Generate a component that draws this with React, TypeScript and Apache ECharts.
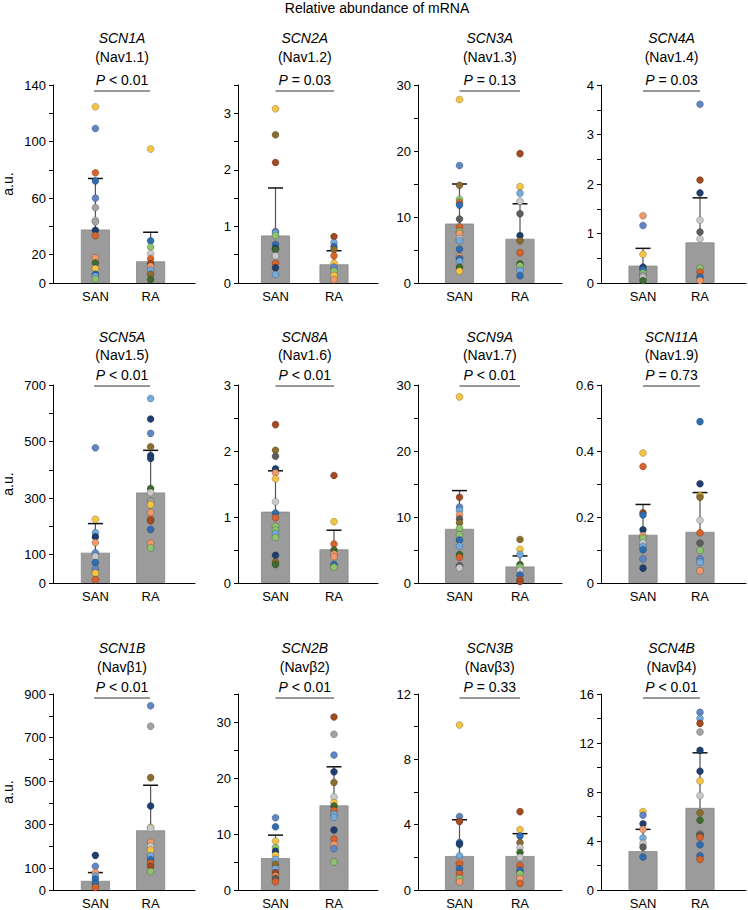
import React, { useEffect, useRef } from 'react';
import * as echarts from 'echarts';

const FONT = "'Liberation Sans', Arial, Helvetica, sans-serif";

const mainTitle = 'Relative abundance of mRNA';
const categories = ['SAN', 'RA'];
const genes = ['SCN1A', 'SCN2A', 'SCN3A', 'SCN4A', 'SCN5A', 'SCN8A', 'SCN9A', 'SCN11A', 'SCN1B', 'SCN2B', 'SCN3B', 'SCN4B'];
const proteins = ['Nav1.1', 'Nav1.2', 'Nav1.3', 'Nav1.4', 'Nav1.5', 'Nav1.6', 'Nav1.7', 'Nav1.9', 'Navβ1', 'Navβ2', 'Navβ3', 'Navβ4'];
const pTexts = ['< 0.01', '= 0.03', '= 0.13', '= 0.03', '< 0.01', '< 0.01', '< 0.01', '= 0.73', '< 0.01', '< 0.01', '= 0.33', '< 0.01'];

// y axis scale per panel
const yMax = [140, 3.5, 30, 4, 700, 3, 30, 0.6, 900, 35, 12, 16];
const yStep = [20, 0.5, 5, 0.5, 100, 0.5, 5, 0.1, 100, 5, 2, 2];
const yLabels = [
  [0, 20, 60, 100, 140],
  [0, 1, 2, 3],
  [0, 10, 20, 30],
  [0, 1, 2, 3, 4],
  [0, 100, 300, 500, 700],
  [0, 1, 2, 3],
  [0, 10, 20, 30],
  [0, 0.2, 0.4, 0.6],
  [0, 100, 300, 500, 700, 900],
  [0, 10, 20, 30],
  [0, 4, 8, 12],
  [0, 4, 8, 12, 16],
];

// bar heights (mean) and top of error bar (mean + SD)
const sanMean = [37.8, 0.84, 9.0, 0.35, 107, 1.08, 8.2, 0.146, 42, 5.7, 2.08, 3.17];
const sanUpper = [73.9, 1.68, 15.0, 0.70, 210, 1.70, 14.0, 0.238, 80, 9.8, 4.3, 4.95];
const raMean = [15.3, 0.33, 6.7, 0.82, 320, 0.51, 2.5, 0.155, 274, 15.1, 2.08, 6.7];
const raUpper = [35.9, 0.57, 12.0, 1.72, 469, 0.80, 4.1, 0.274, 481, 22.0, 3.45, 11.2];

// individual samples
const sanDots = [
  [124.6, 109.3, 77.9, 72.2, 60, 53.4, 44.4, 43.2, 37.3, 33.5, 17.7, 14.2, 10.2, 6.1, 4.7, 2.8],
  [3.08, 2.62, 2.13, 0.91, 0.88, 0.84, 0.68, 0.61, 0.59, 0.48, 0.35, 0.27, 0.15],
  [27.8, 17.8, 14.8, 12.7, 12.2, 11.8, 9.7, 8.5, 7.8, 7.5, 6.7, 6.4, 5.1, 4.0, 3.7, 3.3, 2.4, 1.8],
  [1.36, 1.16, 0.58, 0.32, 0.27, 0.2, 0.15, 0.11, 0.05],
  [478, 225, 178, 163, 143, 107, 94, 72, 50, 35, 12],
  [2.40, 2.01, 1.92, 1.73, 1.67, 1.58, 1.23, 1.06, 0.99, 0.86, 0.80, 0.75, 0.69, 0.42, 0.32, 0.28],
  [28.2, 13.0, 11.5, 11.0, 10.3, 9.7, 9.1, 8.3, 7.3, 6.5, 5.6, 4.3, 3.9, 2.6, 2.3],
  [0.394, 0.353, 0.213, 0.206, 0.161, 0.144, 0.136, 0.121, 0.111, 0.101, 0.073, 0.045],
  [159, 109, 80, 64, 50, 30, 12],
  [12.9, 11.3, 8.7, 7.6, 6.9, 6.2, 5.5, 4.6, 3.8, 3.1, 2.5, 2.1, 1.5],
  [10.1, 4.5, 4.2, 2.9, 2.8, 2.1, 1.7, 1.6, 1.3, 1.0, 0.7, 0.5],
  [6.4, 6.1, 5.4, 4.95, 4.25, 3.8, 3.5, 2.7],
];
const sanDotColors = [
  ['Y', 'BG', 'O', 'MB', 'BG', 'G', 'GL', 'G', 'N', 'O', 'S', 'DGR', 'Y', 'MB', 'LB', 'GR'],
  ['Y', 'OL', 'R', 'BG', 'LB', 'GR', 'MB', 'N', 'DGR', 'GL', 'O', 'N', 'LB'],
  ['Y', 'BG', 'OL', 'GR', 'O', 'MB', 'DG', 'O', 'GR', 'S', 'GL', 'LB', 'MB', 'S', 'MB', 'LB', 'DGR', 'Y'],
  ['S', 'BG', 'Y', 'N', 'MB', 'GR', 'G', 'GL', 'DGR'],
  ['BG', 'Y', 'LB', 'N', 'S', 'BG', 'GL', 'MB', 'BG', 'Y', 'O'],
  ['R', 'OL', 'DG', 'N', 'S', 'Y', 'GL', 'MB', 'O', 'GR', 'GR', 'LB', 'GR', 'N', 'OL', 'DGR'],
  ['Y', 'R', 'BG', 'LB', 'S', 'DG', 'OL', 'GR', 'GR', 'MB', 'LB', 'DGR', 'O', 'DG', 'GL'],
  ['Y', 'O', 'R', 'MB', 'N', 'S', 'GR', 'GL', 'LB', 'MB', 'BG', 'N'],
  ['N', 'BG', 'S', 'LB', 'MB', 'MB', 'O'],
  ['BG', 'MB', 'Y', 'GR', 'N', 'Y', 'LB', 'OL', 'LB', 'R', 'S', 'DG', 'O'],
  ['Y', 'BG', 'R', 'MB', 'N', 'LB', 'S', 'O', 'MB', 'O', 'GR', 'S'],
  ['Y', 'BG', 'N', 'S', 'LB', 'GL', 'DG', 'MB'],
];
const raDots = [
  [94.7, 29.8, 25.5, 20.8, 17.2, 13.7, 11.8, 9, 6.1, 2.4],
  [0.82, 0.71, 0.64, 0.59, 0.48, 0.35, 0.28, 0.21, 0.13, 0.06],
  [19.6, 14.6, 13.6, 12.4, 10.5, 7.2, 6.4, 4.6, 2.9, 2.6, 1.9, 1.1],
  [3.61, 2.08, 1.82, 1.27, 1.03, 0.89, 0.3, 0.22, 0.12, 0.05],
  [652, 580, 529, 482, 451, 440, 334, 320, 289, 277, 249, 225, 220, 189, 140, 124],
  [1.63, 0.93, 0.59, 0.50, 0.44, 0.40, 0.28, 0.24],
  [6.6, 5.1, 4.3, 2.8, 2.4, 1.9, 1.2, 0.5, 0.25],
  [0.489, 0.301, 0.265, 0.26, 0.19, 0.152, 0.121, 0.099, 0.073, 0.063, 0.037],
  [846, 752, 516, 386, 287, 284, 219, 201, 183, 157, 139, 124, 109, 85],
  [30.9, 27.8, 24.1, 21.1, 19.2, 16.6, 15.6, 15.0, 14.2, 13.5, 13.0, 10.7, 9.1, 8.1, 7.4, 5.0],
  [4.8, 3.7, 3.3, 2.9, 2.6, 2.3, 2.0, 1.5, 1.2, 1.0, 0.7, 0.4],
  [14.5, 14.0, 13.6, 12.9, 11.4, 9.7, 8.9, 7.7, 6.3, 5.7, 4.6, 4.5, 4.3, 3.7, 2.8, 2.5],
];
const raDotColors = [
  ['Y', 'MB', 'GR', 'GL', 'O', 'R', 'S', 'LB', 'OL', 'DGR'],
  ['R', 'LB', 'MB', 'OL', 'O', 'Y', 'BG', 'GR', 'Y', 'S'],
  ['R', 'Y', 'LB', 'GL', 'DG', 'N', 'OL', 'O', 'DGR', 'GR', 'LB', 'MB'],
  ['BG', 'R', 'N', 'GL', 'DG', 'GL', 'GR', 'O', 'MB', 'S'],
  ['LB', 'N', 'BG', 'OL', 'N', 'N', 'DGR', 'GL', 'G', 'Y', 'S', 'O', 'R', 'MB', 'S', 'GR'],
  ['R', 'Y', 'O', 'DGR', 'S', 'S', 'MB', 'GR'],
  ['OL', 'Y', 'LB', 'DGR', 'GR', 'GL', 'MB', 'O', 'R'],
  ['MB', 'N', 'Y', 'OL', 'GL', 'O', 'DG', 'GR', 'BG', 'LB', 'S'],
  ['BG', 'G', 'OL', 'N', 'Y', 'GL', 'S', 'GL', 'Y', 'LB', 'MB', 'O', 'R', 'GR'],
  ['R', 'G', 'BG', 'N', 'OL', 'GL', 'Y', 'DGR', 'O', 'LB', 'LB', 'N', 'O', 'S', 'BG', 'GR'],
  ['R', 'Y', 'MB', 'OL', 'GL', 'DGR', 'GL', 'O', 'MB', 'GR', 'S', 'O'],
  ['BG', 'LB', 'R', 'G', 'N', 'N', 'Y', 'GL', 'OL', 'DGR', 'G', 'DG', 'O', 'MB', 'MB', 'O'],
];

const PALETTE: Record<string, string> = {
  Y: '#F6C444',
  BG: '#5F87C6',
  MB: '#2F6DB3',
  LB: '#74AADC',
  N: '#1E3F6F',
  O: '#D9632C',
  R: '#A24A22',
  S: '#F09A6A',
  OL: '#8D6D2E',
  G: '#A3A3A3',
  GL: '#C9C9C9',
  DG: '#5D5D5D',
  GR: '#8DC46D',
  DGR: '#3F6A30',
};

// layout (pixels)
const COLS = [
  { L: 51, W: 144, san: 94, ra: 150 },
  { L: 238, W: 140, san: 275.5, ra: 334 },
  { L: 418, W: 144, san: 459.5, ra: 520 },
  { L: 601, W: 145, san: 643, ra: 700 },
];
const ROWS = [
  { top: 85, bottom: 283, gene: 38, prot: 57, p: 80, line: 91 },
  { top: 385, bottom: 583, gene: 337, prot: 355, p: 375, line: 386 },
  { top: 694, bottom: 893, gene: 648, prot: 667, p: 687, line: 698 },
];

export default function App() {
  const ref = useRef<HTMLDivElement>(null);
  useEffect(() => {
    document.body.style.margin = '0';
    const chart = echarts.init(ref.current as HTMLDivElement, null, { renderer: 'svg' });
    const grids: any[] = [];
    const xAxes: any[] = [];
    const yAxes: any[] = [];
    const series: any[] = [];
    const graphics: any[] = [
      {
        type: 'text',
        x: 377,
        y: 8,
        style: { text: mainTitle, fontSize: 14, fontFamily: FONT, fill: '#000', align: 'center', verticalAlign: 'middle' },
      },
    ];

    genes.forEach((gene, i) => {
      const r = Math.floor(i / 4);
      const c = i % 4;
      const col = COLS[c];
      const row = ROWS[r];
      const unit = col.ra - col.san;
      const xmin = 1 - (col.san - col.L) / unit;
      const xmax = 2 + (col.L + col.W - col.ra) / unit;
      const labels = yLabels[i];
      const max = yMax[i];

      grids.push({ left: col.L, top: row.top, width: col.W, height: row.bottom - row.top, containLabel: false });
      xAxes.push({
        gridIndex: i,
        type: 'value',
        min: xmin,
        max: xmax,
        axisLine: { show: true, onZero: false, lineStyle: { color: '#000', width: 1 } },
        axisTick: { show: false },
        splitLine: { show: false },
        axisLabel: {
          customValues: [1, 2],
          formatter: (v: number) => (v < 1.5 ? categories[0] : categories[1]),
          margin: 7,
          fontSize: 13,
          color: '#000',
          fontFamily: FONT,
        },
      });
      yAxes.push({
        gridIndex: i,
        type: 'value',
        min: 0,
        max: max,
        interval: yStep[i],
        axisLine: { show: true, lineStyle: { color: '#000', width: 1 } },
        axisTick: { show: true, length: 4, lineStyle: { color: '#000' } },
        splitLine: { show: false },
        axisLabel: {
          margin: 7,
          fontSize: 13,
          color: '#000',
          fontFamily: FONT,
          showMaxLabel: true,
          showMinLabel: true,
          formatter: (v: number) => {
            const hit = labels.find((l) => Math.abs(l - v) < 1e-6 * Math.max(1, max));
            return hit === undefined ? '' : String(hit);
          },
        },
        name: c === 0 ? 'a.u.' : '',
        nameLocation: 'middle',
        nameGap: 38,
        nameTextStyle: { fontSize: 14, color: '#000', fontFamily: FONT },
      });

      series.push({
        type: 'bar',
        xAxisIndex: i,
        yAxisIndex: i,
        barWidth: 29,
        z: 1,
        itemStyle: { color: '#9b9b9b', borderColor: '#868686', borderWidth: 0.8 },
        data: [
          [1, sanMean[i]],
          [2, raMean[i]],
        ],
        silent: true,
      });
      series.push({
        type: 'custom',
        xAxisIndex: i,
        yAxisIndex: i,
        z: 2,
        encode: { x: 0, y: [1, 2] },
        data: [
          [1, sanMean[i], sanUpper[i]],
          [2, raMean[i], raUpper[i]],
        ],
        renderItem: (params: any, api: any) => {
          const x = api.value(0);
          const p0 = api.coord([x, api.value(1)]);
          const p1 = api.coord([x, api.value(2)]);
          return {
            type: 'group',
            children: [
              { type: 'line', shape: { x1: p0[0], y1: p0[1], x2: p1[0], y2: p1[1] }, style: { stroke: '#555', lineWidth: 1.2 } },
              { type: 'line', shape: { x1: p1[0] - 7.5, y1: p1[1], x2: p1[0] + 7.5, y2: p1[1] }, style: { stroke: '#111', lineWidth: 1.5 } },
            ],
          };
        },
        silent: true,
      });
      const dots = [
        ...sanDots[i].map((v, k) => ({ value: [1, v], itemStyle: { color: PALETTE[sanDotColors[i][k]] } })),
        ...raDots[i].map((v, k) => ({ value: [2, v], itemStyle: { color: PALETTE[raDotColors[i][k]] } })),
      ];
      series.push({
        type: 'scatter',
        xAxisIndex: i,
        yAxisIndex: i,
        z: 3,
        symbolSize: 7,
        itemStyle: { borderColor: 'rgba(0,0,0,0.35)', borderWidth: 0.6, opacity: 1 },
        data: dots,
        silent: true,
      });

      const cx = (col.san + col.ra) / 2;
      graphics.push({
        type: 'text',
        x: cx,
        y: row.gene,
        style: { text: gene, fontSize: 14, fontStyle: 'italic', fontFamily: FONT, fill: '#000', align: 'center', verticalAlign: 'middle' },
      });
      graphics.push({
        type: 'text',
        x: cx,
        y: row.prot,
        style: { text: '(' + proteins[i] + ')', fontSize: 14, fontFamily: FONT, fill: '#000', align: 'center', verticalAlign: 'middle' },
      });
      graphics.push({
        type: 'text',
        x: cx,
        y: row.p,
        style: {
          text: '{i|P} ' + pTexts[i],
          fontSize: 14,
          fontFamily: FONT,
          fill: '#000',
          align: 'center',
          verticalAlign: 'middle',
          rich: { i: { fontStyle: 'italic', fontSize: 14, fontFamily: FONT, fill: '#000' } },
        },
      });
      graphics.push({
        type: 'line',
        shape: { x1: col.san, y1: row.line, x2: col.ra, y2: row.line },
        style: { stroke: '#333', lineWidth: 1 },
      });
    });

    chart.setOption({
      animation: false,
      backgroundColor: '#fff',
      grid: grids,
      xAxis: xAxes,
      yAxis: yAxes,
      series,
      graphic: graphics,
    });
    return () => chart.dispose();
  }, []);
  return <div ref={ref} style={{ width: 748, height: 910 }} />;
}
